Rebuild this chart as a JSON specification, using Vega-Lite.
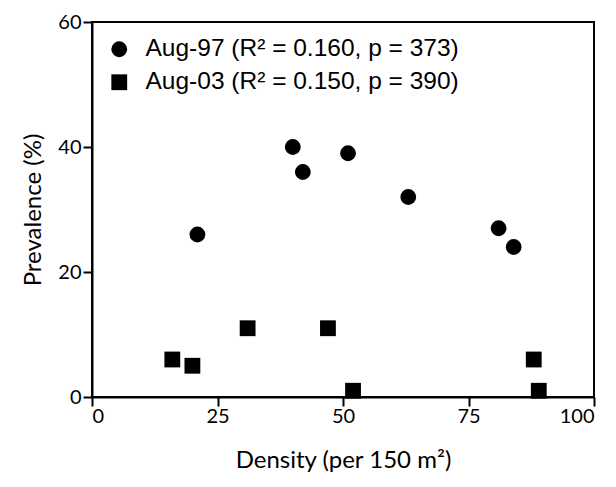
{
  "$schema": "https://vega.github.io/schema/vega-lite/v6.json",
  "width": 502,
  "height": 375,
  "autosize": {"type": "none"},
  "padding": {"left": 92, "top": 22, "right": 22, "bottom": 90},
  "background": "white",
  "config": {
    "view": {"stroke": "black", "strokeWidth": 2},
    "axis": {
      "domainColor": "black", "domainWidth": 2, "tickColor": "black", "tickWidth": 2, "tickSize": 9,
      "grid": false, "labelFont": "Lato", "labelFontSize": 20, "labelColor": "black",
      "titleFont": "Lato", "titleFontSize": 24, "titleFontWeight": "normal", "titleColor": "black"
    }
  },
  "data": {
    "values": [
      {"series": "Aug-97", "density": 21, "prevalence": 26},
      {"series": "Aug-97", "density": 40, "prevalence": 40},
      {"series": "Aug-97", "density": 42, "prevalence": 36},
      {"series": "Aug-97", "density": 51, "prevalence": 39},
      {"series": "Aug-97", "density": 63, "prevalence": 32},
      {"series": "Aug-97", "density": 81, "prevalence": 27},
      {"series": "Aug-97", "density": 84, "prevalence": 24},
      {"series": "Aug-03", "density": 16, "prevalence": 6},
      {"series": "Aug-03", "density": 20, "prevalence": 5},
      {"series": "Aug-03", "density": 31, "prevalence": 11},
      {"series": "Aug-03", "density": 47, "prevalence": 11},
      {"series": "Aug-03", "density": 52, "prevalence": 1},
      {"series": "Aug-03", "density": 88, "prevalence": 6},
      {"series": "Aug-03", "density": 89, "prevalence": 1}
    ]
  },
  "mark": {"type": "point", "filled": true, "opacity": 1, "color": "black", "size": 250},
  "encoding": {
    "x": {
      "field": "density", "type": "quantitative",
      "scale": {"domain": [0, 100], "nice": false},
      "axis": {"values": [0, 25, 50, 75, 100], "title": "Density (per 150 m²)", "titlePadding": 22, "labelPadding": 0}
    },
    "y": {
      "field": "prevalence", "type": "quantitative",
      "scale": {"domain": [0, 60], "nice": false},
      "axis": {"values": [0, 20, 40, 60], "title": "Prevalence (%)", "titlePadding": 12, "labelPadding": 2}
    },
    "shape": {
      "field": "series", "type": "nominal",
      "scale": {"domain": ["Aug-97", "Aug-03"], "range": ["circle", "square"]},
      "legend": {
        "title": null, "orient": "top-left", "offset": 15, "labelLimit": 0,
        "labelExpr": "datum.label == 'Aug-97' ? 'Aug-97 (R² = 0.160, p = 373)' : 'Aug-03 (R² = 0.150, p = 390)'",
        "labelFont": "Liberation Sans", "labelFontSize": 24.5, "labelColor": "black",
        "symbolFillColor": "black", "symbolStrokeColor": "black", "symbolSize": 250, "symbolOpacity": 1,
        "rowPadding": 8, "labelOffset": 14
      }
    }
  }
}
